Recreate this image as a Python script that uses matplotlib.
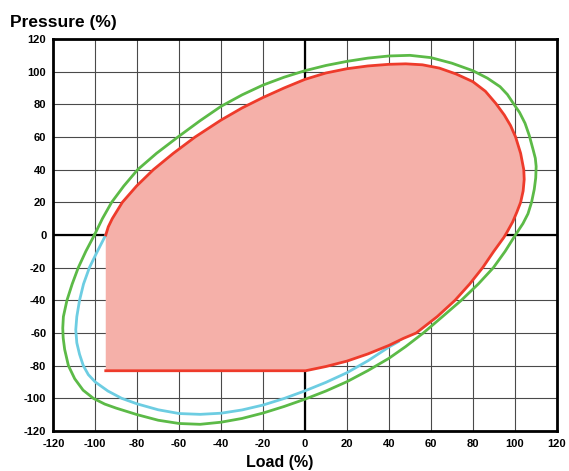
"""Pressure vs load operating envelope chart."""

import matplotlib

matplotlib.use("Agg")

import matplotlib.pyplot as plt


# outer (green) boundary, traced clockwise from the left zero crossing
green_x = [-100.4, -96.6, -92.2, -86.4, -79.8, -70.8, -60.6, -50.0, -40.0, -30.0,
           -20.0, -10.0, 0.0, 10.0, 20.0, 30.0, 40.0, 50.0, 60.0, 70.0,
           80.0, 87.0, 93.0, 96.5, 99.3, 102.3, 104.9, 106.9, 108.8, 109.8,
           110.2, 110.0, 109.3, 108.0, 106.3, 103.9, 100.3, 95.4, 89.8, 82.6,
           74.5, 65.5, 56.4, 48.0, 40.0, 30.0, 20.0, 10.0, 0.0, -10.0,
           -20.0, -30.0, -40.0, -50.0, -60.0, -70.0, -80.0, -90.0, -95.5, -100.9,
           -105.8, -109.8, -112.8, -114.6, -115.3, -115.5, -115.2, -113.5, -111.0, -108.1,
           -104.5, -100.4]
green_y = [0.0, 10.0, 20.0, 30.0, 40.0, 50.0, 60.0, 70.0, 78.8, 85.8,
           91.8, 96.6, 100.6, 103.8, 106.3, 108.3, 109.6, 110.0, 108.6, 105.2,
           100.6, 96.0, 90.8, 86.0, 80.6, 75.0, 68.4, 61.0, 52.0, 47.0,
           42.0, 35.0, 28.0, 20.0, 13.0, 7.0, 0.0, -10.0, -20.0, -30.0,
           -40.0, -50.0, -60.0, -68.3, -75.5, -83.0, -89.8, -95.5, -100.5, -105.0,
           -109.0, -112.3, -114.6, -115.9, -115.4, -113.4, -110.0, -106.0, -103.5, -100.0,
           -95.0, -88.0, -80.0, -70.0, -63.0, -57.0, -50.0, -40.0, -30.0, -20.0,
           -10.0, 0.0]

# blue boundary, from the red corner down to where it joins the red edge
blue_x = [-95.0, -97.0, -99.0, -102.8, -105.6, -107.5, -108.8, -109.3, -108.8, -107.5,
          -105.7, -103.3, -100.0, -94.0, -87.4, -80.0, -70.0, -60.0, -50.0, -40.0,
          -30.0, -20.0, -10.0, 0.0, 10.0, 20.0, 30.0, 40.0, 44.5]
blue_y = [0.0, -5.0, -10.0, -20.0, -30.0, -40.0, -50.0, -58.0, -66.0, -73.0,
          -80.0, -85.5, -90.0, -95.5, -100.0, -103.4, -107.0, -109.3, -109.8, -109.1,
          -107.1, -104.1, -100.1, -95.4, -90.2, -84.3, -77.0, -68.6, -65.3]

# red (filled) operating region, clockwise from the corner at load -95
red_x = [-95.0, -93.8, -91.9, -87.1, -80.3, -72.3, -62.8, -52.4, -40.0, -30.0,
         -20.0, -10.0, 0.0, 10.0, 20.0, 30.0, 40.0, 48.0, 56.0, 64.0,
         72.0, 80.0, 86.0, 91.0, 95.0, 98.0, 100.4, 102.8, 104.3, 104.5,
         104.0, 102.8, 101.0, 99.0, 96.2, 94.8, 90.0, 84.7, 78.5, 71.5,
         63.0, 53.0, 46.9, 40.0, 30.0, 20.0, 10.0, 0.3, -95.0]
red_y = [0.0, 5.0, 10.0, 20.0, 30.0, 40.0, 50.0, 60.0, 70.4, 77.8,
         84.2, 90.0, 95.3, 99.2, 101.8, 103.5, 104.5, 104.8, 104.2, 102.2,
         98.6, 93.9, 88.0, 80.5, 73.5, 67.0, 60.0, 50.0, 40.0, 34.0,
         27.0, 20.0, 14.0, 8.0, 1.5, -1.5, -10.0, -20.0, -30.0, -40.0,
         -50.0, -60.0, -63.3, -67.6, -72.8, -77.2, -80.5, -83.1, -83.1]

ticks = list(range(-120, 121, 20))

GREEN = "#5cba47"
BLUE = "#6dcde2"
RED = "#ee3b2b"
RED_FILL = "#f5b0a9"


def main() -> None:
    plt.rcParams["font.family"] = ["Liberation Sans", "DejaVu Sans"]
    plt.rcParams["axes.unicode_minus"] = False

    fig = plt.figure(figsize=(5.69, 4.71), dpi=100)
    ax = fig.add_axes([0.0937, 0.0849, 0.8847, 0.8323])

    ax.set_xlim(-120, 120)
    ax.set_ylim(-120, 120)
    ax.set_xticks(ticks)
    ax.set_yticks(ticks)
    ax.set_xticklabels([str(t) for t in ticks], fontweight="bold", fontsize=8)
    ax.set_yticklabels([str(t) for t in ticks], fontweight="bold", fontsize=8)
    ax.tick_params(axis="x", length=0, pad=6)
    ax.tick_params(axis="y", length=0, pad=5)

    ax.grid(True, color="#4a4a4a", linewidth=0.8, zorder=0)
    ax.set_axisbelow(True)
    ax.axhline(0, color="black", linewidth=1.6, zorder=1)
    ax.axvline(0, color="black", linewidth=1.6, zorder=1)

    ax.fill(red_x, red_y, color=RED_FILL, linewidth=0, zorder=2)
    ax.plot(green_x, green_y, color=GREEN, linewidth=2.0, zorder=3,
            solid_joinstyle="round")
    ax.plot(blue_x, blue_y, color=BLUE, linewidth=2.0, zorder=3,
            solid_joinstyle="round")
    ax.plot(red_x, red_y, color=RED, linewidth=2.0, zorder=4,
            solid_joinstyle="round")

    for spine in ax.spines.values():
        spine.set_linewidth(2.0)
        spine.set_color("black")
        spine.set_zorder(5)

    fig.text(0.0176, 0.953, "Pressure (%)", fontsize=12.5, fontweight="bold",
             ha="left", va="center")
    fig.text(0.492, 0.019, "Load (%)", fontsize=11.5, fontweight="bold",
             ha="center", va="center")

    fig.savefig("out.png", dpi=100)
    plt.close(fig)


if __name__ == "__main__":
    main()
